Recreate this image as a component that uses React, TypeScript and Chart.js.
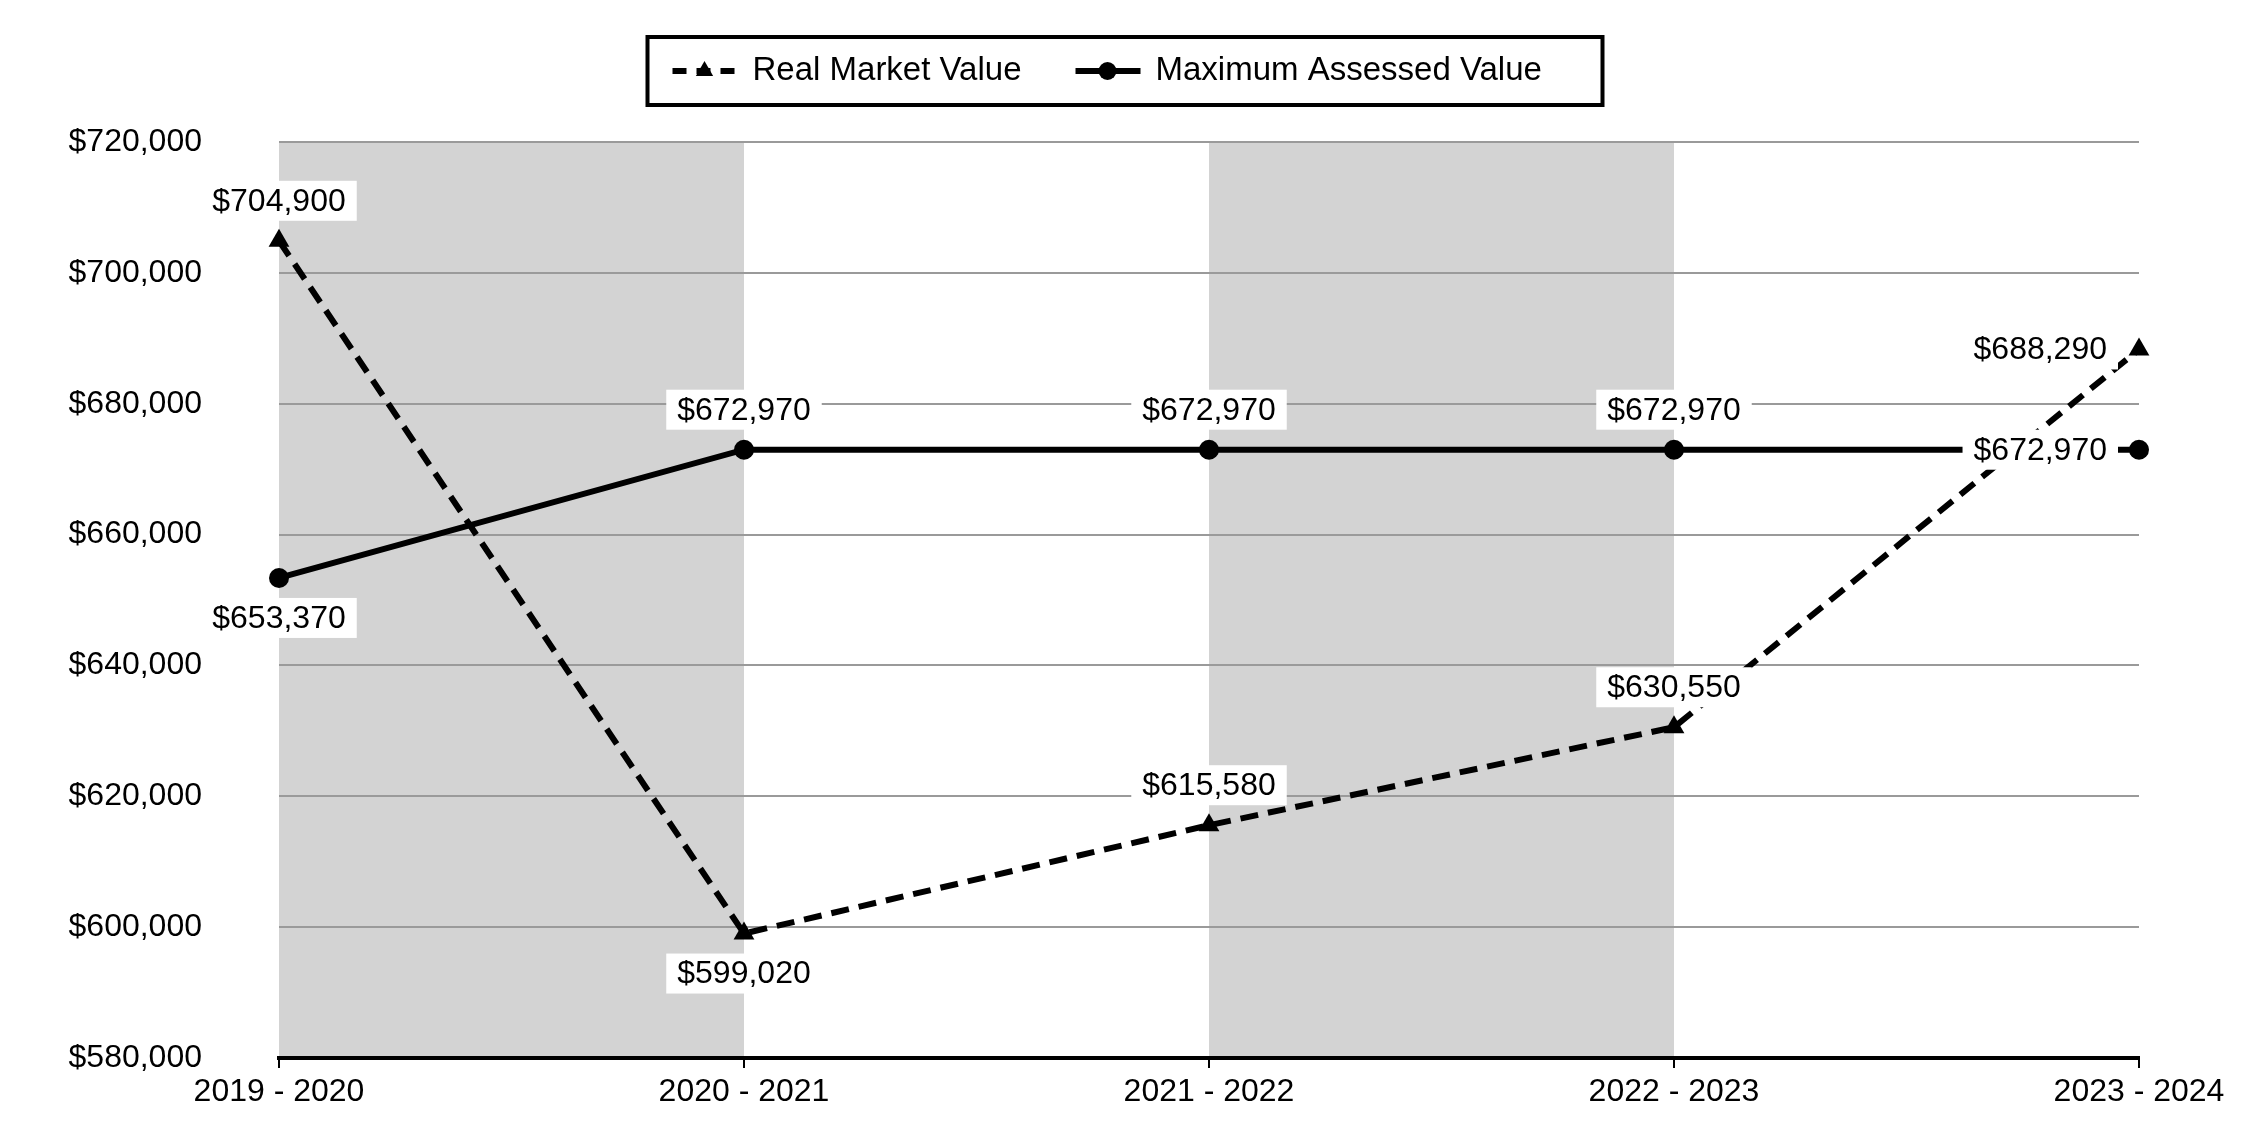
import React, { useEffect, useRef } from "react";
import { Chart, registerables } from "chart.js";

Chart.register(...registerables);

// ---- data ----
const categories = ["2019 - 2020", "2020 - 2021", "2021 - 2022", "2022 - 2023", "2023 - 2024"];
const realMarketValue = [704900, 599020, 615580, 630550, 688290];
const maxAssessedValue = [653370, 672970, 672970, 672970, 672970];
const seriesNames = ["Real Market Value", "Maximum Assessed Value"];
const yMin = 580000;
const yMax = 720000;
const yStep = 20000;

// ---- styling config (label placement, shaded bands) ----
const rmvLabelPos = ["top", "bottom", "top", "top", "left"];
const mavLabelPos = ["bottom", "top", "top", "top", "left"];
const shadedBands: number[][] = [
  [0, 1],
  [2, 3],
];

const FONT = '"Liberation Sans", Arial, sans-serif';
const fmt = (v: number) => "$" + Number(v).toLocaleString("en-US");

const bandPlugin = {
  id: "bands",
  beforeDraw(chart: any) {
    const { ctx, chartArea, scales } = chart;
    const x = scales.x;
    ctx.save();
    ctx.fillStyle = "#d3d3d3";
    for (const [a, b] of shadedBands) {
      const x0 = x.getPixelForValue(a);
      const x1 = x.getPixelForValue(b);
      ctx.fillRect(x0, chartArea.top, x1 - x0, chartArea.bottom - chartArea.top);
    }
    ctx.restore();
  },
};

const labelPlugin = {
  id: "dataLabels",
  afterDatasetsDraw(chart: any) {
    const { ctx } = chart;
    const positions = [rmvLabelPos, mavLabelPos];
    ctx.save();
    ctx.font = `32px ${FONT}`;
    ctx.textBaseline = "middle";
    chart.data.datasets.forEach((ds: any, di: number) => {
      const meta = chart.getDatasetMeta(di);
      meta.data.forEach((pt: any, i: number) => {
        const text = fmt(ds.data[i]);
        const w = ctx.measureText(text).width;
        const pos = positions[di][i];
        let cx = pt.x;
        let cy = pt.y;
        if (pos === "top") cy = pt.y - 40;
        else if (pos === "bottom") cy = pt.y + 40;
        else if (pos === "left") {
          cx = pt.x - 32 - w / 2;
        }
        const padX = 11;
        const h = 40;
        ctx.fillStyle = "#ffffff";
        ctx.fillRect(cx - w / 2 - padX, cy - h / 2, w + padX * 2, h);
        ctx.fillStyle = "#000000";
        ctx.textAlign = "center";
        ctx.fillText(text, cx, cy + 1);
      });
    });
    ctx.restore();
  },
};

const legendPlugin = {
  id: "customLegend",
  afterDraw(chart: any) {
    const { ctx, width } = chart;
    ctx.save();
    ctx.font = `33px ${FONT}`;
    const w1 = ctx.measureText(seriesNames[0]).width;
    const boxW = 955;
    const boxX = width / 2 - boxW / 2;
    const boxY = 37;
    const boxH = 68;
    const cy = 71;
    ctx.lineWidth = 4;
    ctx.strokeStyle = "#000";
    ctx.strokeRect(boxX, boxY, boxW, boxH);

    const s1 = boxX + 25;
    ctx.beginPath();
    ctx.setLineDash([14, 10]);
    ctx.lineWidth = 6;
    ctx.moveTo(s1, cy);
    ctx.lineTo(s1 + 64, cy);
    ctx.stroke();
    ctx.setLineDash([]);
    const tcx = s1 + 32;
    const r = 10;
    ctx.fillStyle = "#000";
    ctx.beginPath();
    ctx.moveTo(tcx, cy - r);
    ctx.lineTo(tcx + r * 0.866, cy + r * 0.5);
    ctx.lineTo(tcx - r * 0.866, cy + r * 0.5);
    ctx.closePath();
    ctx.fill();

    const t1 = s1 + 80;
    ctx.textBaseline = "middle";
    ctx.textAlign = "left";
    ctx.fillText(seriesNames[0], t1, cy);

    const s2 = t1 + w1 + 54;
    ctx.beginPath();
    ctx.lineWidth = 6;
    ctx.moveTo(s2, cy);
    ctx.lineTo(s2 + 65, cy);
    ctx.stroke();
    ctx.beginPath();
    ctx.arc(s2 + 32, cy, 9, 0, Math.PI * 2);
    ctx.fill();
    ctx.fillText(seriesNames[1], s2 + 80, cy);
    ctx.restore();
  },
};

export default function App() {
  const canvasRef = useRef<HTMLCanvasElement | null>(null);

  useEffect(() => {
    if (!canvasRef.current) return;
    const chart = new Chart(canvasRef.current, {
      type: "line",
      data: {
        labels: categories,
        datasets: [
          {
            label: seriesNames[0],
            data: realMarketValue,
            borderColor: "#000",
            backgroundColor: "#000",
            borderWidth: 6,
            borderDash: [18, 10],
            pointStyle: "triangle",
            pointRadius: 12,
            pointBorderWidth: 0,
            pointBackgroundColor: "#000",
            tension: 0,
            fill: false,
          },
          {
            label: seriesNames[1],
            data: maxAssessedValue,
            borderColor: "#000",
            backgroundColor: "#000",
            borderWidth: 6,
            pointStyle: "circle",
            pointRadius: 10,
            pointBorderWidth: 0,
            pointBackgroundColor: "#000",
            tension: 0,
            fill: false,
          },
        ],
      },
      options: {
        animation: false,
        responsive: false,
        devicePixelRatio: 1,
        layout: { padding: { top: 142, left: 0, right: 111, bottom: 0 } },
        plugins: {
          legend: { display: false },
          tooltip: { enabled: false },
        },
        scales: {
          x: {
            type: "category",
            offset: false,
            grid: {
              display: true,
              drawOnChartArea: false,
              drawTicks: true,
              tickLength: 10,
              color: "#000",
              lineWidth: 2,
            },
            border: { display: true, color: "#000", width: 4 },
            ticks: {
              color: "#000",
              font: { family: FONT, size: 32 },
              padding: 5,
              maxRotation: 0,
              autoSkip: false,
            },
            afterFit(scale: any) {
              scale.height = 82;
            },
          },
          y: {
            min: yMin,
            max: yMax,
            grid: {
              color: "#9a9a9a",
              lineWidth: 2,
              drawTicks: false,
            },
            border: { display: false },
            ticks: {
              stepSize: yStep,
              color: "#000",
              font: { family: FONT, size: 32 },
              padding: 77,
              callback: (v: any) => fmt(Number(v)),
            },
            afterFit(scale: any) {
              scale.width = 279;
              scale.paddingTop = 0;
              scale.paddingBottom = 0;
            },
          },
        },
      },
      plugins: [bandPlugin, labelPlugin, legendPlugin],
    } as any);
    return () => chart.destroy();
  }, []);

  return (
    <div style={{ position: "absolute", left: 0, top: 0, width: 2250, height: 1140, background: "#fff" }}>
      <canvas ref={canvasRef} width={2250} height={1140} style={{ display: "block", width: 2250, height: 1140 }} />
    </div>
  );
}
